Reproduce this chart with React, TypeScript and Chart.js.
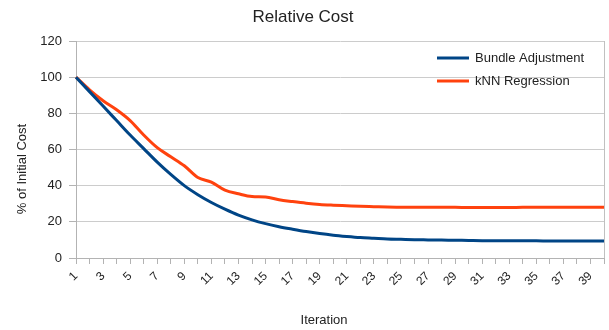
import React, { useEffect, useRef } from "react";
import { Chart, registerables } from "chart.js";

Chart.register(...registerables);

const iterations = [
  "1", "2", "3", "4", "5", "6", "7", "8", "9", "10",
  "11", "12", "13", "14", "15", "16", "17", "18", "19", "20",
  "21", "22", "23", "24", "25", "26", "27", "28", "29", "30",
  "31", "32", "33", "34", "35", "36", "37", "38", "39", "40",
];

const bundleAdjustment = [
  100, 92, 84, 76, 68, 60.5, 53, 46.2, 40, 35,
  30.7, 27, 23.7, 21.1, 19, 17.3, 15.9, 14.6, 13.5, 12.6,
  11.9, 11.3, 10.9, 10.5, 10.3, 10.1, 10, 9.9, 9.8, 9.7,
  9.6, 9.6, 9.5, 9.5, 9.5, 9.4, 9.4, 9.4, 9.4, 9.4,
];

const knnRegression = [
  100, 93, 87, 82, 76, 68, 61, 56, 51, 44.5,
  42, 37.5, 35.5, 34, 33.7, 32.2, 31.2, 30.3, 29.6, 29.2,
  28.9, 28.6, 28.4, 28.2, 28.1, 28, 28, 28, 28, 27.9,
  27.9, 27.9, 27.9, 28, 28, 28, 28.1, 28.1, 28.1, 28.1,
];

const seriesNames = ["Bundle Adjustment", "kNN Regression"];
const seriesColors = ["#004586", "#ff420e"];
const chartTitle = "Relative Cost";
const yAxisTitle = "% of Initial Cost";
const xAxisTitle = "Iteration";

const FONT = "'Liberation Sans', Arial, sans-serif";

export default function App() {
  const ref = useRef<HTMLCanvasElement>(null);

  useEffect(() => {
    const decor = {
      id: "decor",
      afterDraw(chart: any) {
        const ctx = chart.ctx as CanvasRenderingContext2D;
        ctx.save();
        // Title
        ctx.fillStyle = "#222";
        ctx.font = `17px ${FONT}`;
        ctx.textAlign = "center";
        ctx.textBaseline = "middle";
        ctx.fillText(chartTitle, 303, 17);
        // Axis titles
        ctx.font = `13px ${FONT}`;
        ctx.fillText(xAxisTitle, 324, 320);
        ctx.save();
        ctx.translate(22, 169);
        ctx.rotate(-Math.PI / 2);
        ctx.fillText(yAxisTitle, 0, 0);
        ctx.restore();
        // Legend
        ctx.textAlign = "left";
        chart.data.datasets.forEach((ds: any, i: number) => {
          const y = 58 + i * 23;
          ctx.strokeStyle = ds.borderColor;
          ctx.lineWidth = 3;
          ctx.beginPath();
          ctx.moveTo(437, y);
          ctx.lineTo(469, y);
          ctx.stroke();
          ctx.fillStyle = "#222";
          ctx.font = `13px ${FONT}`;
          ctx.fillText(ds.label, 475, y);
        });
        ctx.restore();
      },
    };

    const chart = new Chart(ref.current as HTMLCanvasElement, {
      type: "line",
      data: {
        labels: iterations,
        datasets: [
          {
            label: seriesNames[0],
            data: bundleAdjustment,
            borderColor: seriesColors[0],
            backgroundColor: seriesColors[0],
            borderWidth: 3,
            pointRadius: 0,
            cubicInterpolationMode: "monotone",
          },
          {
            label: seriesNames[1],
            data: knnRegression,
            borderColor: seriesColors[1],
            backgroundColor: seriesColors[1],
            borderWidth: 3,
            pointRadius: 0,
            cubicInterpolationMode: "monotone",
          },
        ],
      },
      options: {
        responsive: false,
        animation: false,
        devicePixelRatio: 1,
        layout: { padding: { left: 0, top: 41, right: 5, bottom: 0 } },
        plugins: {
          legend: { display: false },
          title: { display: false },
          tooltip: { enabled: false },
        },
        scales: {
          x: {
            offset: false,
            grid: {
              display: true,
              drawOnChartArea: true,
              color: (c: any) => (c.index === iterations.length - 1 ? "#c0c0c0" : "rgba(0,0,0,0)"),
              tickColor: "#b3b3b3",
              tickLength: 6,
              lineWidth: 1,
            },
            border: { display: true, color: "#b3b3b3" },
            ticks: {
              autoSkip: false,
              minRotation: 45,
              maxRotation: 45,
              padding: 5,
              color: "#222",
              font: { family: FONT, size: 12 },
              callback: (_v: any, i: number) => (i % 2 === 0 ? iterations[i] : ""),
            },
            afterFit: (s: any) => {
              s.height = 72;
              s.paddingLeft = 0;
              s.paddingRight = 0;
            },
          },
          y: {
            min: 0,
            max: 120,
            grid: {
              color: "#cccccc",
              tickColor: "#b3b3b3",
              tickLength: 7,
            },
            border: { display: true, color: "#b3b3b3" },
            ticks: {
              stepSize: 20,
              padding: 7,
              color: "#222",
              font: { family: FONT, size: 13 },
            },
            afterFit: (s: any) => {
              s.width = 76;
            },
          },
        },
      },
      plugins: [decor],
    });
    return () => chart.destroy();
  }, []);

  return (
    <div style={{ position: "fixed", left: 0, top: 0, width: 609, height: 330, background: "#fff" }}>
      <canvas ref={ref} width={609} height={330} style={{ display: "block", width: 609, height: 330 }} />
    </div>
  );
}
